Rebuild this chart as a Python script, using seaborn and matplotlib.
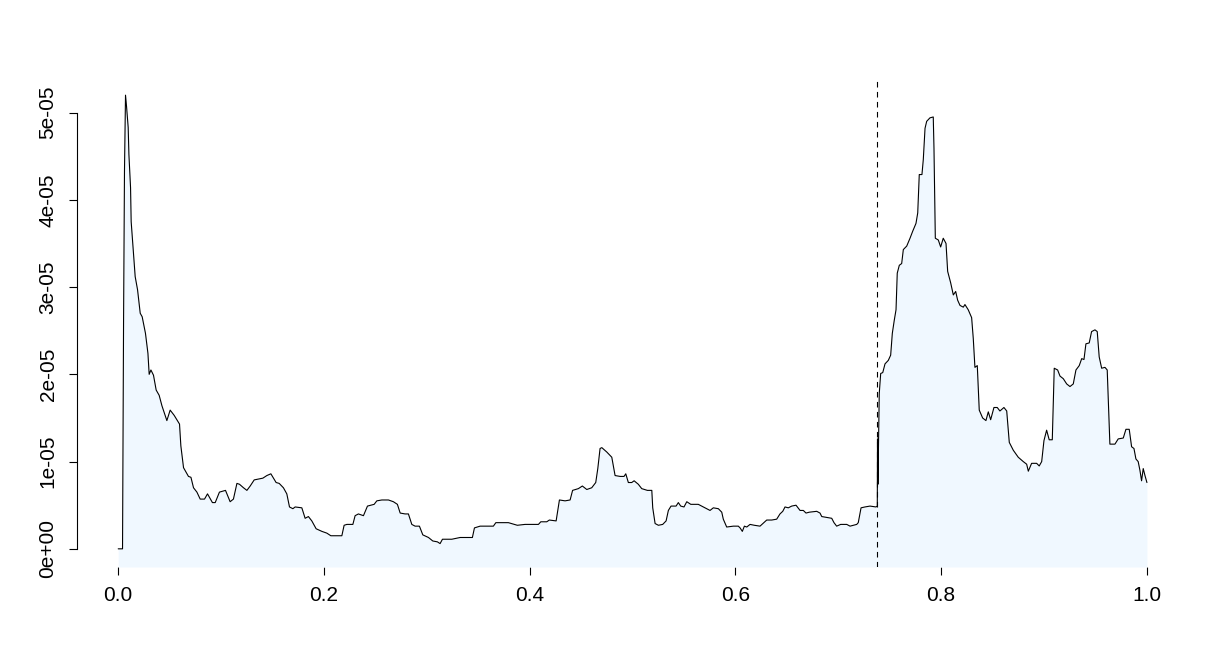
import numpy as np
import pandas as pd
import matplotlib
matplotlib.use("Agg")
import matplotlib.pyplot as plt
import seaborn as sns

# position along the sequence (0..1) and density (in units of 1e-05)
pos = [
    0.0, 0.0042, 0.0045, 0.0052, 0.0061, 0.0071, 0.0081, 0.0097, 0.0104, 0.0120,
    0.0126, 0.0143, 0.0165, 0.0188, 0.0214, 0.0233, 0.0265, 0.0289, 0.0301, 0.0318,
    0.0343, 0.0369, 0.0398, 0.0425, 0.0450, 0.0473, 0.0505, 0.0544, 0.0586, 0.0596,
    0.0609, 0.0635, 0.0683, 0.0707, 0.0732, 0.0765, 0.0797, 0.0839, 0.0868, 0.0916,
    0.0943, 0.0984, 0.1043, 0.1088, 0.1120, 0.1154, 0.1179, 0.1218, 0.1251, 0.1283,
    0.1322, 0.1363, 0.1406, 0.1445, 0.1484, 0.1535, 0.1565, 0.1606, 0.1639, 0.1665,
    0.1698, 0.1720, 0.1785, 0.1817, 0.1849, 0.1882, 0.1924, 0.1980, 0.2028, 0.2067,
    0.2174, 0.2196, 0.2223, 0.2281, 0.2303, 0.2335, 0.2384, 0.2423, 0.2488, 0.2514,
    0.2563, 0.2627, 0.2675, 0.2714, 0.2741, 0.2789, 0.2821, 0.2854, 0.2886, 0.2928,
    0.2961, 0.3016, 0.3058, 0.3103, 0.3129, 0.3152, 0.3243, 0.3324, 0.3372, 0.3443,
    0.3463, 0.3518, 0.3647, 0.3671, 0.3793, 0.3880, 0.3955, 0.4085, 0.4108, 0.4166,
    0.4191, 0.4257, 0.4289, 0.4344, 0.4393, 0.4417, 0.4473, 0.4512, 0.4555, 0.4603,
    0.4642, 0.4662, 0.4684, 0.4701, 0.4749, 0.4798, 0.4830, 0.4879, 0.4917, 0.4934,
    0.4959, 0.4992, 0.5015, 0.5056, 0.5089, 0.5144, 0.5187, 0.5196, 0.5219, 0.5251,
    0.5293, 0.5326, 0.5348, 0.5374, 0.5423, 0.5445, 0.5468, 0.5500, 0.5527, 0.5566,
    0.5639, 0.5688, 0.5753, 0.5785, 0.5834, 0.5867, 0.5882, 0.5915, 0.5980, 0.6028,
    0.6045, 0.6067, 0.6087, 0.6110, 0.6142, 0.6184, 0.6239, 0.6304, 0.6353, 0.6401,
    0.6433, 0.6460, 0.6482, 0.6514, 0.6547, 0.6589, 0.6628, 0.6660, 0.6686, 0.6718,
    0.6790, 0.6822, 0.6839, 0.6887, 0.6936, 0.6958, 0.6984, 0.7023, 0.7082, 0.7114,
    0.7179, 0.7194, 0.7221, 0.7259, 0.7308, 0.7366, 0.7379, 0.7381, 0.7385, 0.7398,
    0.7412, 0.7432, 0.7454, 0.7486, 0.7509, 0.7525, 0.7544, 0.7561, 0.7573, 0.7593,
    0.7616, 0.7632, 0.7665, 0.7697, 0.7723, 0.7755, 0.7772, 0.7787, 0.7813, 0.7826,
    0.7843, 0.7859, 0.7891, 0.7923, 0.7930, 0.7943, 0.7972, 0.7995, 0.8020, 0.8047,
    0.8063, 0.8092, 0.8118, 0.8141, 0.8160, 0.8183, 0.8215, 0.8231, 0.8263, 0.8296,
    0.8312, 0.8328, 0.8351, 0.8370, 0.8403, 0.8435, 0.8458, 0.8481, 0.8513, 0.8545,
    0.8571, 0.8610, 0.8637, 0.8662, 0.8701, 0.8749, 0.8798, 0.8831, 0.8847, 0.8879,
    0.8928, 0.8953, 0.8977, 0.8999, 0.9025, 0.9050, 0.9080, 0.9099, 0.9132, 0.9155,
    0.9187, 0.9220, 0.9252, 0.9284, 0.9310, 0.9342, 0.9366, 0.9388, 0.9407, 0.9439,
    0.9462, 0.9495, 0.9517, 0.9536, 0.9560, 0.9592, 0.9614, 0.9640, 0.9689, 0.9721,
    0.9770, 0.9796, 0.9828, 0.9851, 0.9874, 0.9893, 0.9915, 0.9932, 0.9948, 0.9964,
    0.9981, 1.0,
]
density_e5 = [
    0.0, 0.0, 0.86, 2.60, 4.33, 5.20, 5.07, 4.83, 4.52, 4.14,
    3.75, 3.48, 3.12, 2.97, 2.70, 2.66, 2.47, 2.24, 2.00, 2.05,
    1.99, 1.82, 1.76, 1.64, 1.55, 1.47, 1.59, 1.53, 1.45, 1.43,
    1.18, 0.93, 0.83, 0.82, 0.70, 0.65, 0.57, 0.57, 0.63, 0.53,
    0.53, 0.65, 0.67, 0.54, 0.57, 0.75, 0.74, 0.70, 0.67, 0.72,
    0.79, 0.80, 0.81, 0.84, 0.86, 0.76, 0.75, 0.70, 0.63, 0.48,
    0.46, 0.48, 0.47, 0.35, 0.37, 0.32, 0.23, 0.20, 0.18, 0.15,
    0.15, 0.27, 0.28, 0.28, 0.38, 0.40, 0.38, 0.49, 0.51, 0.55,
    0.56, 0.56, 0.54, 0.51, 0.41, 0.40, 0.40, 0.28, 0.26, 0.26,
    0.16, 0.13, 0.09, 0.08, 0.06, 0.11, 0.11, 0.13, 0.13, 0.13,
    0.24, 0.26, 0.26, 0.30, 0.30, 0.27, 0.28, 0.28, 0.31, 0.31,
    0.33, 0.32, 0.56, 0.55, 0.56, 0.67, 0.69, 0.72, 0.68, 0.70,
    0.76, 0.92, 1.15, 1.16, 1.11, 1.05, 0.84, 0.83, 0.83, 0.86,
    0.76, 0.76, 0.78, 0.74, 0.69, 0.67, 0.67, 0.47, 0.29, 0.27,
    0.28, 0.32, 0.44, 0.49, 0.49, 0.53, 0.49, 0.48, 0.54, 0.51,
    0.51, 0.48, 0.44, 0.47, 0.46, 0.42, 0.34, 0.25, 0.26, 0.26,
    0.24, 0.20, 0.26, 0.25, 0.28, 0.27, 0.26, 0.33, 0.33, 0.34,
    0.40, 0.43, 0.48, 0.47, 0.49, 0.50, 0.44, 0.44, 0.41, 0.42,
    0.43, 0.41, 0.37, 0.36, 0.35, 0.30, 0.26, 0.28, 0.28, 0.26,
    0.28, 0.30, 0.47, 0.48, 0.49, 0.48, 0.49, 1.26, 0.74, 1.78,
    2.01, 2.02, 2.12, 2.16, 2.22, 2.47, 2.62, 2.74, 3.16, 3.25,
    3.27, 3.43, 3.47, 3.56, 3.64, 3.73, 3.85, 4.29, 4.29, 4.46,
    4.82, 4.90, 4.94, 4.95, 4.59, 3.56, 3.54, 3.46, 3.56, 3.50,
    3.18, 3.05, 2.91, 2.95, 2.85, 2.79, 2.77, 2.80, 2.74, 2.65,
    2.41, 2.08, 2.10, 1.59, 1.50, 1.47, 1.57, 1.48, 1.62, 1.62,
    1.58, 1.62, 1.58, 1.22, 1.13, 1.05, 1.00, 0.97, 0.89, 0.98,
    0.98, 0.95, 1.00, 1.24, 1.36, 1.25, 1.25, 2.07, 2.05, 1.98,
    1.95, 1.89, 1.86, 1.89, 2.05, 2.10, 2.18, 2.17, 2.35, 2.36,
    2.49, 2.51, 2.49, 2.20, 2.07, 2.08, 2.05, 1.20, 1.20, 1.26,
    1.27, 1.37, 1.37, 1.17, 1.15, 1.03, 1.00, 0.90, 0.78, 0.92,
    0.84, 0.76,
]
cutoff = 0.7376
y_ticks = [0, 1e-05, 2e-05, 3e-05, 4e-05, 5e-05]
y_labels = ["0e+00", "1e-05", "2e-05", "3e-05", "4e-05", "5e-05"]
x_ticks = [0.0, 0.2, 0.4, 0.6, 0.8, 1.0]
x_labels = ["0.0", "0.2", "0.4", "0.6", "0.8", "1.0"]

df = pd.DataFrame({"pos": pos, "density": np.array(density_e5) * 1e-5})

sns.set_theme(style="white")
plt.rcParams["font.family"] = ["Liberation Sans", "DejaVu Sans"]

fig = plt.figure(figsize=(12.29, 6.65), dpi=100)
ax = fig.add_axes([0.0627, 0.1474, 0.904, 0.7368])

ymax = df["density"].max()
ylo = -0.04 * ymax
yhi = ymax * 1.04
ax.set_xlim(-0.04, 1.04)
ax.set_ylim(ylo, yhi)

ax.fill_between(df["pos"], df["density"], ylo, color="#F0F8FF", linewidth=0)
sns.lineplot(data=df, x="pos", y="density", ax=ax, color="black",
             linewidth=0.8, estimator=None, sort=False)
ax.axvline(cutoff, color="black", linewidth=0.8, linestyle=(0, (5, 4)))

for side in ["top", "right", "bottom"]:
    ax.spines[side].set_visible(False)
ax.spines["left"].set_bounds(0, 5e-05)
ax.spines["left"].set_linewidth(0.8)
ax.spines["left"].set_color("black")

ax.set_xticks(x_ticks)
ax.set_xticklabels(x_labels)
ax.set_yticks(y_ticks)
ax.set_yticklabels(y_labels, rotation=90, va="center")
ax.tick_params(axis="both", direction="out", length=6, width=0.8,
               color="black", labelsize=15, labelcolor="black")
ax.tick_params(axis="x", pad=8, bottom=True)
ax.tick_params(axis="y", pad=8, left=True)
ax.set_xlabel("")
ax.set_ylabel("")

fig.savefig("out.png", dpi=100)
